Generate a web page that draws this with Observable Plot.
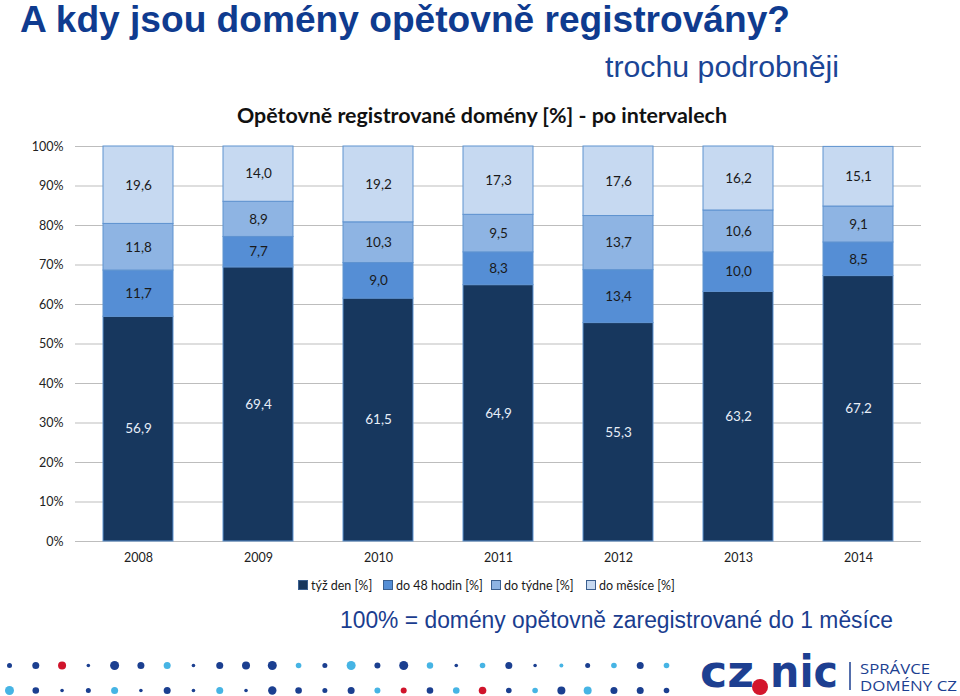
<!DOCTYPE html>
<html>
<head>
<meta charset="utf-8">
<script src="https://cdn.jsdelivr.net/npm/d3@7"></script>
<script src="https://cdn.jsdelivr.net/npm/@observablehq/plot@0.6"></script>
<style>
  html, body { margin: 0; padding: 0; background: #fff; }
  #page { position: relative; width: 960px; height: 696px; overflow: hidden; }
  .abs { position: absolute; }
  #legend { left: 0; top: 577px; width: 960px; height: 16px; font-family: Lato, "Open Sans", sans-serif; font-size: 12.5px; color: #1a1a1a; }
  #legend .item { position: absolute; top: 0; display: flex; align-items: center; height: 16px; white-space: nowrap; }
  #legend .sw { width: 8px; height: 8px; border: 1px solid #3a5f8f; margin-right: 3px; }
</style>
</head>
<body>
<div id="page">
  <svg class="abs" style="left:0;top:0" width="960" height="696" id="overlay">
    <text x="20" y="32" font-family="'Liberation Sans', Arial, sans-serif" font-weight="bold" font-size="36" fill="#0f3b8f" textLength="770" lengthAdjust="spacingAndGlyphs">A kdy jsou domény opětovně registrovány?</text>
    <text x="605" y="77" font-family="'Liberation Sans', Arial, sans-serif" font-size="29" fill="#1a4596" textLength="234" lengthAdjust="spacingAndGlyphs">trochu podrobněji</text>
    <text x="237" y="123" font-family="Lato, 'Open Sans', sans-serif" font-weight="bold" font-size="21" fill="#111" textLength="490" lengthAdjust="spacingAndGlyphs">Opětovně registrované domény [%] - po intervalech</text>
    <text x="340" y="628" font-family="'Liberation Sans', Arial, sans-serif" font-size="23" fill="#1a3d8f" textLength="553" lengthAdjust="spacingAndGlyphs">100% = domény opětovně zaregistrované do 1 měsíce</text>
    <g id="logo">
      <text x="700" y="687" font-family="'DejaVu Sans', sans-serif" font-weight="bold" font-size="44" fill="#1d3f91" textLength="54" lengthAdjust="spacingAndGlyphs">cz</text>
      <circle cx="760" cy="687" r="8" fill="#d3152c"></circle>
      <text x="770" y="687" font-family="'DejaVu Sans', sans-serif" font-weight="bold" font-size="44" fill="#1d3f91" textLength="68" lengthAdjust="spacingAndGlyphs">nic</text>
      <line x1="850" x2="850" y1="662" y2="690" stroke="#1d3f91" stroke-width="1.5"></line>
      <text font-family="'Open Sans', sans-serif" font-size="14" fill="#1d3f91"><tspan x="860" y="674" textLength="70" lengthAdjust="spacingAndGlyphs">SPRÁVCE</tspan><tspan x="860" y="691" textLength="97" lengthAdjust="spacingAndGlyphs">DOMÉNY CZ</tspan></text>
    </g>
  </svg>
  <div class="abs" id="chart" style="left:0;top:130px"></div>
  <div class="abs" id="legend"></div>
  <div class="abs" id="dots" style="left:0;top:640px"></div>
</div>
<script>
// ---- data ----
const years = ["2008", "2009", "2010", "2011", "2012", "2013", "2014"];
const seriesNames = ["týž den [%]", "do 48 hodin [%]", "do týdne [%]", "do měsíce [%]"];
const sameDay     = [56.9, 69.4, 61.5, 64.9, 55.3, 63.2, 67.2];
const within48h   = [11.7, 7.7, 9.0, 8.3, 13.4, 10.0, 8.5];
const withinWeek  = [11.8, 8.9, 10.3, 9.5, 13.7, 10.6, 9.1];
const withinMonth = [19.6, 14.0, 19.2, 17.3, 17.6, 16.2, 15.1];
const seriesColors = ["#17375e", "#558ed5", "#8eb4e3", "#c6d9f1"];
const yTicks = [0, 10, 20, 30, 40, 50, 60, 70, 80, 90, 100];

// decorative dot rows (size and colour code per column)
const dotRow1Size  = [2.5, 3.5, 4, 1.8, 4.5, 3.5, 3.5, 1.8, 3.5, 4, 4.5, 2.8, 2.5, 4.5, 3, 4.5, 3.2, 1.8, 2.8, 3.5, 1.8, 2, 2.5, 2.8, 3.5, 2.8];
const dotRow1Color = ["d","d","r","d","d","d","l","d","d","d","d","l","d","l","d","d","l","d","l","d","d","l","d","l","d","l"];
const dotRow2Size  = [4.5, 3.3, 1.8, 2.5, 3.5, 1.8, 3.5, 1.8, 3.5, 1.8, 4.2, 3.3, 2.5, 3.5, 3, 3, 3.3, 3.3, 3.8, 2.8, 2.8, 4, 4, 3.5, 3.5, 2.8];
const dotRow2Color = ["l","d","d","d","l","d","d","d","l","d","d","d","d","d","l","r","d","l","r","d","l","d","l","d","d","d"];
const dotPalette = {d: "#1b3f90", l: "#46b4e4", r: "#d0142b"};

// ---- build table ----
const seriesValues = [sameDay, within48h, withinWeek, withinMonth];
const rows = [];
seriesNames.forEach((s, i) => {
  years.forEach((y, j) => rows.push({year: y, series: s, value: seriesValues[i][j]}));
});
const fmt = v => v.toFixed(1).replace(".", ",");

const chart = Plot.plot({
  width: 960,
  height: 440,
  marginTop: 16,
  marginBottom: 29,
  marginLeft: 75,
  marginRight: 39,
  style: {fontFamily: "Lato, 'Open Sans', sans-serif", fontSize: "12.5px", color: "#222", background: "transparent"},
  x: {domain: years, paddingInner: 0.42, paddingOuter: 0.21, label: null, tickSize: 0, tickPadding: 12},
  y: {domain: [0, 100], ticks: yTicks, tickFormat: d => d + "%", label: null, tickSize: 0, tickPadding: 12},
  color: {domain: seriesNames, range: seriesColors},
  marks: [
    Plot.gridY(yTicks, {stroke: "#bdbdbd", strokeOpacity: 1, strokeWidth: 1}),
    Plot.barY(rows, Plot.stackY({x: "year", y: "value", fill: "series", stroke: "#5f93d0", strokeWidth: 1, inset: 0})),
    Plot.text(rows.filter(d => d.series === seriesNames[0]), Plot.stackY({x: "year", y: "value", text: d => fmt(d.value), fill: "#e8eef8", fontSize: 13.5})),
    Plot.text(rows, Plot.stackY({x: "year", y: "value", text: d => d.series === seriesNames[0] ? "" : fmt(d.value), fill: "#1a1a1a", fontSize: 13.5}))
  ]
});
document.getElementById("chart").appendChild(chart);

// ---- legend ----
const legend = document.getElementById("legend");
const legendX = [298, 383, 491, 586];
seriesNames.forEach((s, i) => {
  const item = document.createElement("div");
  item.className = "item";
  item.style.left = legendX[i] + "px";
  const sw = document.createElement("span");
  sw.className = "sw";
  sw.style.background = seriesColors[i];
  item.appendChild(sw);
  item.appendChild(document.createTextNode(s));
  legend.appendChild(item);
});

// ---- decorative dots ----
const dotData = [];
dotRow1Size.forEach((r, i) => dotData.push({col: i, row: 0, r, c: dotPalette[dotRow1Color[i]]}));
dotRow2Size.forEach((r, i) => dotData.push({col: i, row: 1, r, c: dotPalette[dotRow2Color[i]]}));
const dots = Plot.plot({
  width: 700, height: 56,
  margin: 0,
  x: {domain: [0, 25], range: [9, 666], axis: null},
  y: {domain: [0, 1], range: [25, 50], axis: null},
  r: {type: "identity"},
  color: {type: "identity"},
  style: {background: "transparent"},
  marks: [Plot.dot(dotData, {x: "col", y: "row", r: "r", fill: "c", stroke: null})]
});
document.getElementById("dots").appendChild(dots);
</script>
</body>
</html>
